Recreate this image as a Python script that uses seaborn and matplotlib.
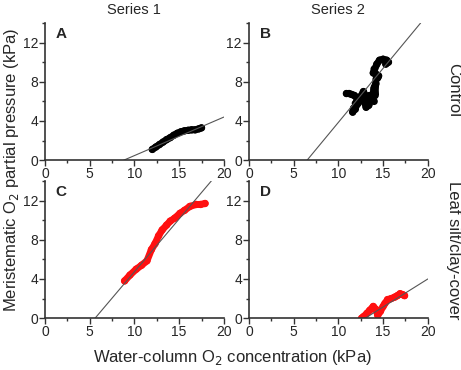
import matplotlib
matplotlib.use("Agg")
import matplotlib.pyplot as plt
from matplotlib.ticker import MultipleLocator
import seaborn as sns

# data traces (water-column O2 vs meristem O2, kPa)
a_x = [12.0, 12.4, 12.8, 13.2, 13.6, 14.0, 14.4, 14.8, 15.2, 15.6, 16.0, 16.4, 16.8, 17.2, 17.5]
a_y = [1.1, 1.35, 1.6, 1.85, 2.1, 2.3, 2.55, 2.75, 2.9, 3.0, 3.05, 3.1, 3.1, 3.2, 3.3]

b_x = [10.9, 11.2, 11.5, 11.8, 12.1, 11.9, 11.7, 11.6, 11.9, 12.2, 12.5, 12.8, 13.0, 12.9,
       13.1, 13.4, 13.6, 13.5, 13.8, 14.0, 14.1, 14.0, 14.2, 14.4, 14.5, 14.2, 13.9, 14.0,
       14.3, 14.6, 15.0, 15.4, 15.6, 15.3]
b_y = [6.8, 6.8, 6.7, 6.6, 6.3, 5.8, 5.3, 4.9, 5.2, 5.8, 6.5, 7.0, 6.6, 6.0,
       5.4, 5.6, 6.1, 6.6, 6.2, 6.0, 6.6, 7.2, 7.8, 8.4, 8.6, 8.8, 8.9, 9.3,
       9.8, 10.2, 10.3, 10.2, 10.0, 9.8]

c_x = [8.9, 9.5, 10.2, 10.8, 11.4, 11.9, 12.3, 12.7, 13.1, 13.6, 14.0, 14.5, 15.1, 15.6,
       16.2, 16.9, 17.4, 17.9]
c_y = [3.8, 4.4, 5.0, 5.4, 5.85, 7.0, 7.6, 8.4, 9.0, 9.5, 9.9, 10.2, 10.7, 11.0,
       11.4, 11.6, 11.6, 11.7]

d_x = [12.6, 12.8, 13.2, 13.5, 13.9, 14.2, 14.4, 14.7, 15.0, 15.2, 15.5, 15.9, 16.3, 16.6,
       16.9, 17.2, 17.4]
d_y = [0.0, 0.15, 0.5, 0.8, 1.2, 0.9, 0.3, 0.7, 1.2, 1.5, 1.9, 2.0, 2.15, 2.3,
       2.5, 2.4, 2.3]

# regression lines, endpoints
fit_ax = [8.8, 20.0]
fit_ay = [0.0, 4.4]
fit_bx = [6.5, 19.2]
fit_by = [0.0, 14.0]
fit_cx = [5.6, 18.6]
fit_cy = [0.0, 14.0]
fit_dx = [13.0, 20.0]
fit_dy = [0.0, 4.0]

panels = [
    ("A", a_x, a_y, fit_ax, fit_ay, "black"),
    ("B", b_x, b_y, fit_bx, fit_by, "black"),
    ("C", c_x, c_y, fit_cx, fit_cy, "#ff1010"),
    ("D", d_x, d_y, fit_dx, fit_dy, "#ff1010"),
]

sns.set_style("ticks")
plt.rcParams["font.family"] = ["Liberation Sans", "DejaVu Sans"]

fig = plt.figure(figsize=(4.61, 3.70), dpi=100)
w, h = 0.388, 0.371
rects = [(0.0976, 0.567, w, h), (0.540, 0.567, w, h),
         (0.0976, 0.140, w, h), (0.540, 0.140, w, h)]

for rect, (lab, xs, ys, fx, fy, col) in zip(rects, panels):
    ax = fig.add_axes(rect)
    sns.lineplot(x=xs, y=ys, sort=False, color=col, lw=5, ax=ax)
    sns.scatterplot(x=xs, y=ys, color=col, s=28, edgecolor="none", ax=ax)
    sns.lineplot(x=fx, y=fy, color="#555555", lw=0.8, ax=ax)
    ax.set_xlim(0, 20)
    ax.set_ylim(0, 14)
    ax.xaxis.set_major_locator(MultipleLocator(5))
    ax.xaxis.set_minor_locator(MultipleLocator(2.5))
    ax.yaxis.set_major_locator(MultipleLocator(4))
    ax.yaxis.set_minor_locator(MultipleLocator(2))
    ax.tick_params(which="major", direction="out", length=4, width=1,
                   labelsize=10, pad=1, color="#333333")
    ax.tick_params(which="minor", direction="out", length=2, width=1, color="#333333")
    sns.despine(ax=ax)
    for s in ("left", "bottom"):
        ax.spines[s].set_linewidth(1.2)
        ax.spines[s].set_color("#333333")
    ax.text(0.06, 0.97, lab, transform=ax.transAxes, fontsize=11,
            fontweight="bold", va="top", ha="left")

fig.text(0.291, 0.972, "Series 1", ha="center", va="center", fontsize=10.5)
fig.text(0.734, 0.972, "Series 2", ha="center", va="center", fontsize=10.5)
fig.text(0.984, 0.757, "Control", ha="center", va="center", rotation=-90, fontsize=12)
fig.text(0.984, 0.324, "Leaf silt/clay-cover", ha="center", va="center",
         rotation=-90, fontsize=12)
fig.text(0.024, 0.54, "Meristematic O$_2$ partial pressure (kPa)", ha="center",
         va="center", rotation=90, fontsize=12)
fig.text(0.505, 0.035, "Water-column O$_2$ concentration (kPa)", ha="center",
         va="center", fontsize=12)

fig.savefig("out.png", dpi=100)
